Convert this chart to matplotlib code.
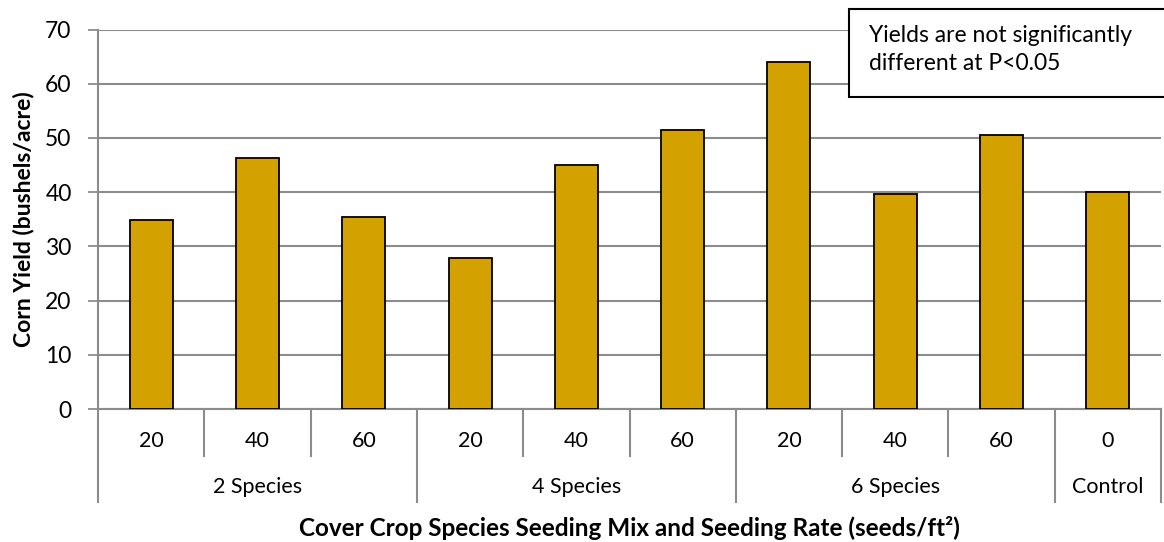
import matplotlib.pyplot as plt
from matplotlib.patches import Rectangle
import numpy as np

# data
groups = ['2 Species', '4 Species', '6 Species', 'Control']
group_sizes = [3, 3, 3, 1]
rates = ['20', '40', '60', '20', '40', '60', '20', '40', '60', '0']
yields = [34.9, 46.4, 35.5, 27.9, 45.0, 51.5, 64.0, 39.6, 50.5, 40.1]

plt.rcParams['font.family'] = ['Lato', 'DejaVu Sans']
grid_col = '#8c8c8c'
bar_col = '#D4A200'

fig = plt.figure(figsize=(11.64, 5.42), dpi=100)
ax = fig.add_axes([98/1164, 1-409/542, 1063/1164, 379.4/542])

x = np.arange(len(yields))
ax.bar(x, yields, width=0.405, color=bar_col, edgecolor='black', linewidth=1.3, zorder=3)

ax.set_xlim(-0.5, len(yields)-0.5)
ax.set_ylim(0, 70)
ax.set_yticks(np.arange(0, 71, 10))
ax.yaxis.grid(True, color=grid_col, linewidth=1.5, zorder=0)
ax.tick_params(axis='y', length=7, width=1.3, color=grid_col, labelsize=16.5, pad=12)
ax.set_xticks([])
for s in ['top', 'right']:
    ax.spines[s].set_visible(False)
for s in ['left', 'bottom']:
    ax.spines[s].set_color(grid_col)
    ax.spines[s].set_linewidth(1.5)

# multi-level category axis
trans = ax.get_xaxis_transform()
long_len, short_len = 0.245, 0.124
bounds = np.cumsum([0] + group_sizes) - 0.5
for i in range(len(yields) + 1):
    xs = i - 0.5
    ln = long_len if np.any(np.isclose(bounds, xs)) else short_len
    ax.plot([xs, xs], [0, -ln], transform=trans, color=grid_col, lw=1.5, clip_on=False)
for xi, r in zip(x, rates):
    ax.text(xi, -0.084, r, transform=trans, ha='center', va='center', fontsize=15.5)
for g, a, b in zip(groups, bounds[:-1], bounds[1:]):
    ax.text((a + b) / 2, -0.206, g, transform=trans, ha='center', va='center', fontsize=15.5)

ax.text(0.5, -0.313, 'Cover Crop Species Seeding Mix and Seeding Rate (seeds/ft²)',
        transform=ax.transAxes, ha='center', va='center', fontsize=17.5, fontweight='bold')
ax.set_ylabel('Corn Yield (bushels/acre)', fontsize=16.5, fontweight='bold', labelpad=8)

# note box
fig.patches.append(Rectangle((849/1164, 1-97/542), 0.3, 88/542, transform=fig.transFigure,
                             facecolor='white', edgecolor='black', linewidth=1.5, zorder=5))
fig.text(869/1164, 1-35/542, 'Yields are not significantly', fontsize=16.5, va='center', zorder=6)
fig.text(869/1164, 1-64/542, 'different at P<0.05', fontsize=16.5, va='center', zorder=6)

fig.savefig('out.png', dpi=100)
